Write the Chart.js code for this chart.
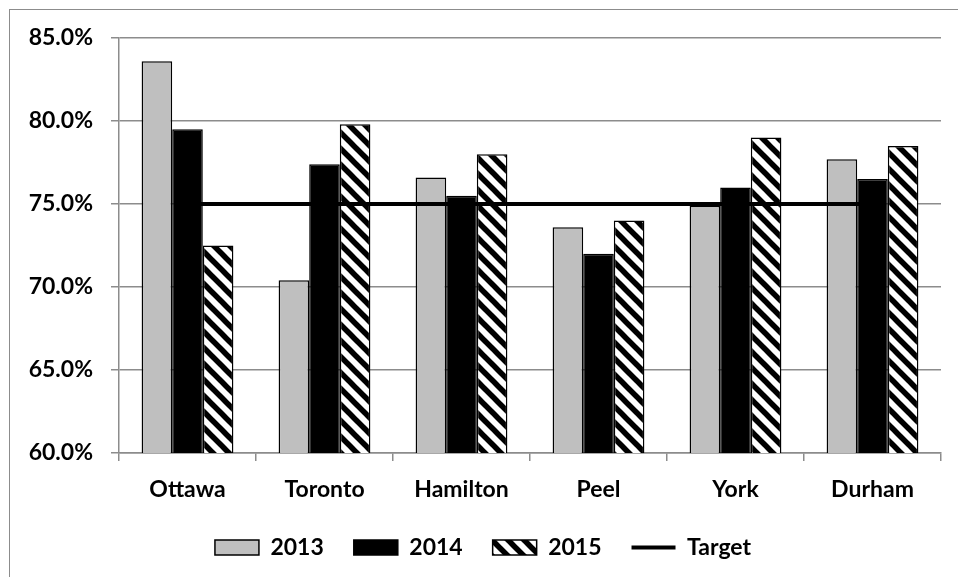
<!DOCTYPE html>
<html>
<head>
<meta charset="utf-8">
<script src="https://cdn.jsdelivr.net/npm/chart.js@4/dist/chart.umd.min.js"></script>
<style>
  html, body { margin: 0; padding: 0; background: #fff; }
  #wrap { position: relative; width: 958px; height: 577px; overflow: hidden; }
  #frame { position: absolute; left: 9px; top: 9px; width: 1000px; height: 1000px; border: 1.5px solid #8c8c8c; }
  canvas { position: absolute; left: 0; top: 0; }
</style>
</head>
<body>
<div id="wrap">
  <div id="frame"></div>
  <canvas id="graph" width="958" height="577"></canvas>
</div>
<script>
// categories and series (percent)
const regions = ['Ottawa', 'Toronto', 'Hamilton', 'Peel', 'York', 'Durham'];
const y2013 = [83.6, 70.4, 76.6, 73.6, 74.9, 77.7];
const y2014 = [79.5, 77.4, 75.5, 72.0, 76.0, 76.5];
const y2015 = [72.5, 79.8, 78.0, 74.0, 79.0, 78.5];
const target = [75, 75, 75, 75, 75, 75];
const yTicks = [60, 65, 70, 75, 80, 85];

// diagonal hatch for 2015
function hatch() {
    let c = document.createElement('canvas');
    c.width = 16; c.height = 16;
    let g = c.getContext('2d');
    g.fillStyle = '#fff';
    g.fillRect(0, 0, 16, 16);
    g.strokeStyle = '#000';
    g.lineWidth = 5.5;
    for (let o = -16; o <= 16; o += 16) {
        g.beginPath();
        g.moveTo(o - 2, -2);
        g.lineTo(o + 18, 18);
        g.stroke();
    }
    return g.createPattern(c, 'repeat');
}

const font = { family: 'Lato', size: 23, weight: 'bold' };
const gridColor = '#8c8c8c';

let context = document.querySelector('#graph').getContext('2d');

new Chart(context, {
    data: {
        labels: regions,
        datasets: [
            { type: 'bar', label: '2013', data: y2013, backgroundColor: '#bfbfbf', borderColor: '#000', borderWidth: 1.5, pointStyle: 'rect', order: 1 },
            { type: 'bar', label: '2014', data: y2014, backgroundColor: '#000', borderColor: '#000', borderWidth: 1.5, pointStyle: 'rect', order: 1 },
            { type: 'bar', label: '2015', data: y2015, backgroundColor: hatch(), borderColor: '#000', borderWidth: 1.5, pointStyle: 'rect', order: 1 },
            { type: 'line', label: 'Target', data: target, borderColor: '#000', backgroundColor: '#000', borderWidth: 4, pointRadius: 0, pointStyle: 'line', order: 0 }
        ]
    },
    options: {
        responsive: false,
        animation: false,
        layout: { padding: { left: 25, right: 17, top: 38, bottom: 8 } },
        datasets: { bar: { categoryPercentage: 0.67, barPercentage: 1 } },
        scales: {
            x: {
                offset: true,
                grid: { display: true, drawOnChartArea: false, drawTicks: true, tickLength: 8, color: gridColor, lineWidth: 1.5 },
                border: { display: true, color: gridColor, width: 1.5 },
                ticks: { color: '#000', font: font, padding: 15 },
                afterFit: (s) => { s.height = 53; }
            },
            y: {
                min: 60,
                max: 85,
                afterBuildTicks: (s) => { s.ticks = yTicks.map(v => ({ value: v })); },
                grid: { color: gridColor, lineWidth: 1.5, tickLength: 8 },
                border: { display: true, color: gridColor, width: 1.5 },
                ticks: { color: '#000', font: font, padding: 18, callback: (v) => v.toFixed(1) + '%' },
                afterFit: (s) => { s.width = 94; }
            }
        },
        plugins: {
            legend: {
                position: 'bottom',
                labels: {
                    color: '#000',
                    font: font,
                    usePointStyle: true,
                    pointStyleWidth: 44,
                    boxWidth: 44,
                    boxHeight: 15,
                    padding: 30,
                    sort: (a, b) => a.datasetIndex - b.datasetIndex
                }
            },
            tooltip: { enabled: false }
        }
    }
});
</script>
</body>
</html>
